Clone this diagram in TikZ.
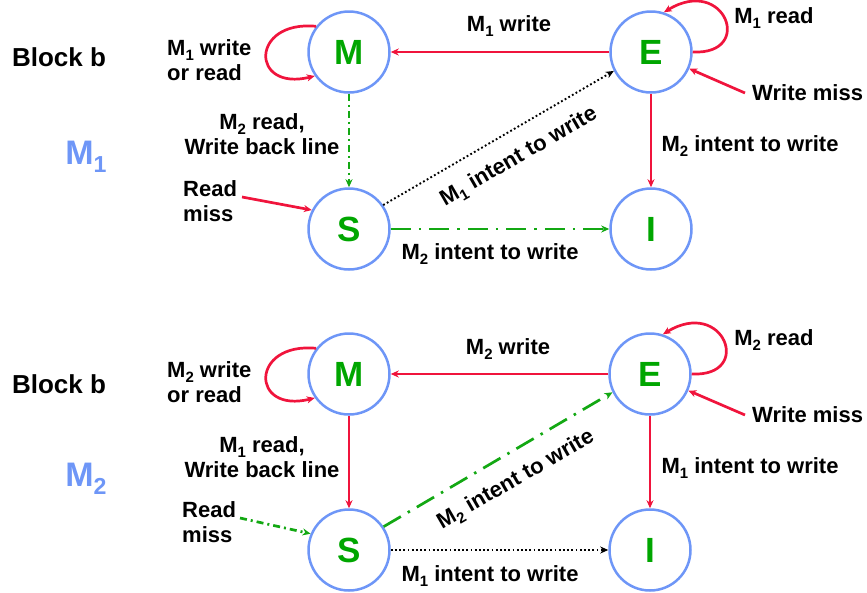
\documentclass[tikz,border=0pt]{standalone}
\usepackage{fontspec}
\setmainfont{Liberation Sans}
\usepackage{graphicx}
\usetikzlibrary{arrows.meta}
\definecolor{cred}{HTML}{F0143C}
\definecolor{cblue}{HTML}{6E96F7}
\definecolor{cgreen}{HTML}{00A600}
\definecolor{lgreen}{HTML}{13A813}
\newcommand\sbs[1]{\raisebox{-0.22em}{\scalebox{0.68}{#1}}}
\begin{document}
\begin{tikzpicture}[x=1pt,y=-1pt,
  state/.style={circle,draw=cblue,line width=2.5pt,minimum size=81pt,inner sep=0pt,text=cgreen,font=\fontsize{35}{35}\selectfont\bfseries},
  lbl/.style={font=\fontsize{22}{25}\selectfont\bfseries,inner sep=0pt},
  blockl/.style={font=\fontsize{26}{26}\selectfont\bfseries,inner sep=0pt},
  procl/.style={font=\fontsize{34}{34}\selectfont\bfseries,text=cblue,inner sep=0pt},
  tipst/.style={-{Stealth[length=8pt,width=7pt,inset=2.5pt]}},
  redl/.style={tipst,draw=cred,line width=2.7pt},
  greenl/.style={tipst,draw=lgreen,line width=2.7pt,dash pattern=on 7pt off 4pt on 2pt off 4pt},
  greenlong/.style={tipst,draw=lgreen,line width=2.7pt,dash pattern=on 20pt off 8pt on 2.5pt off 8pt},
  dotl/.style={tipst,draw=black,line width=1.9pt,dash pattern=on 1.8pt off 2.4pt}
]
\useasboundingbox (0,0) rectangle (867,592);

% ---------- top diagram (M1) ----------
\node[state] (M1) at (349,52) {M};
\node[state] (E1) at (651,52) {E};
\node[state] (S1) at (349,229) {S};
\node[state] (I1) at (651,229) {I};

\draw[redl] (E1) -- (M1);
\node[lbl] (ta) at (509,26) {M\sbs{1} write};
\draw[redl] (M1.142) .. controls (250,20) and (250,92) .. (M1.215);
\node[lbl,align=left,anchor=west] (tb) at (167,60) {M\sbs{1} write\\or read};
\draw[redl] (E1.east) .. controls (755,55) and (725,-25) .. (E1.72);
\node[lbl] (tc) at (774,18) {M\sbs{1} read};
\coordinate (tw) at (745,93);
\draw[redl] (tw) -- (E1);
\node[lbl,anchor=west] (td) at (752,93) {Write miss};
\draw[greenl] (M1) -- (S1);
\node[lbl,align=center] (te) at (262,134) {M\sbs{2} read,\\Write back line};
\coordinate (tr) at (242,197);
\draw[redl] (tr) -- (S1.153);
\node[lbl,align=left,anchor=west] (tf) at (183,201) {Read\\miss};
\draw[dotl] (S1.35) -- (E1.207);
\node[lbl,rotate=30] (tg) at (519,157) {M\sbs{1} intent to write};
\draw[greenlong] (S1) -- (I1);
\node[lbl] (th) at (490,254) {M\sbs{2} intent to write};
\draw[redl] (E1) -- (I1);
\node[lbl] (ti) at (750,146) {M\sbs{2} intent to write};
\node[blockl] (tblk) at (59,57) {Block b};
\node[procl] (tp) at (86,157) {M\sbs{1}};

% ---------- bottom diagram (M2) ----------
\node[state] (M2) at (349,374) {M};
\node[state] (E2) at (650,374) {E};
\node[state] (S2) at (349,550) {S};
\node[state] (I2) at (650,550) {I};

\draw[redl] (E2) -- (M2);
\node[lbl] (ba) at (508,349) {M\sbs{2} write};
\draw[redl] (M2.142) .. controls (250,342) and (250,414) .. (M2.215);
\node[lbl,align=left,anchor=west] (bb) at (167,382) {M\sbs{2} write\\or read};
\draw[redl] (E2.east) .. controls (754,377) and (724,297) .. (E2.72);
\node[lbl] (bc) at (774,340) {M\sbs{2} read};
\coordinate (bw) at (745,415);
\draw[redl] (bw) -- (E2);
\node[lbl,anchor=west] (bd) at (752,415) {Write miss};
\draw[redl] (M2) -- (S2);
\node[lbl,align=center] (be) at (262,457) {M\sbs{1} read,\\Write back line};
\coordinate (br) at (240,518);
\draw[greenl] (br) -- (S2.157);
\node[lbl,align=left,anchor=west] (bf) at (182,522) {Read\\miss};
\draw[greenlong] (S2.34) -- (E2.206);
\node[lbl,rotate=30] (bg) at (516,480) {M\sbs{2} intent to write};
\draw[dotl] (S2) -- (I2);
\node[lbl] (bh) at (490,576) {M\sbs{1} intent to write};
\draw[redl] (E2) -- (I2);
\node[lbl] (bi) at (750,468) {M\sbs{1} intent to write};
\node[blockl] (bblk) at (59,384) {Block b};
\node[procl] (bp) at (86,479) {M\sbs{2}};
\end{tikzpicture}
\end{document}
